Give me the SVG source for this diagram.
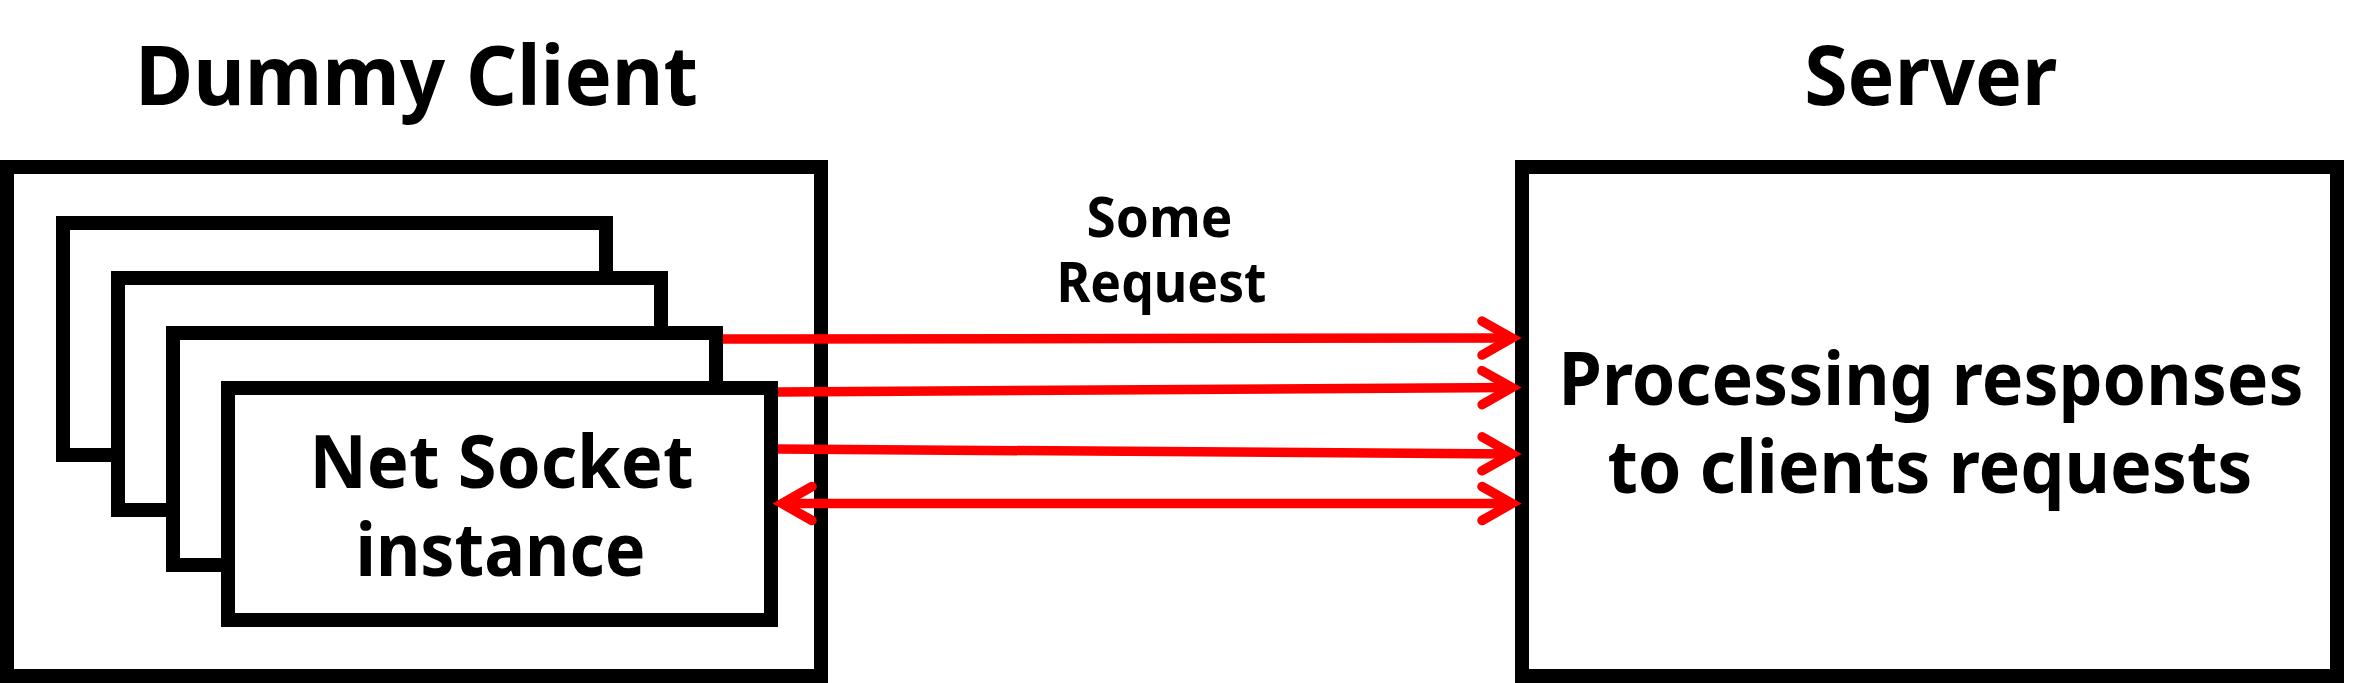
<svg xmlns="http://www.w3.org/2000/svg" width="2372" height="683" viewBox="0 0 2372 683">
<style>
.box{fill:#fff;stroke:#000;stroke-width:14}
.t{font-family:'Noto Sans','Open Sans',sans-serif;font-weight:bold;fill:#000;text-anchor:middle}
.title{font-size:83px}
.body{font-size:73px}
.lbl{font-size:55px}
.conn{fill:none;stroke:#ff0000;stroke-width:9.5}
</style>
<defs>
<marker id="head" markerUnits="userSpaceOnUse" viewBox="-40 -25 50 50" refX="0" refY="0" markerWidth="50" markerHeight="50" orient="auto-start-reverse" overflow="visible">
<path d="M-30,-17 L0,0 L-30,17" fill="none" stroke="#ff0000" stroke-width="9.5" stroke-linecap="round" stroke-linejoin="miter"/>
</marker>
</defs>
<rect width="2372" height="683" fill="#fff"/>
<g id="title-client"><text class="t title" x="416.5" y="105" textLength="563" lengthAdjust="spacingAndGlyphs">Dummy Client</text></g>
<g id="title-server"><text class="t title" x="1930.7" y="105" textLength="253" lengthAdjust="spacingAndGlyphs">Server</text></g>
<g id="client">
<rect class="box" x="7" y="167" width="814" height="509"/>
</g>
<g id="socket1"><rect class="box" x="63" y="223" width="543" height="232"/></g>
<g id="socket2"><rect class="box" x="118" y="278" width="543" height="232"/></g>
<g id="socket3"><rect class="box" x="173" y="333" width="543" height="232"/></g>
<g id="socket4"><rect class="box" x="228" y="388" width="543" height="232"/>
<text class="t body" x="501.5" y="488" textLength="384" lengthAdjust="spacingAndGlyphs">Net Socket</text>
<text class="t body" x="500.5" y="576" textLength="290" lengthAdjust="spacingAndGlyphs">instance</text>
</g>
<g id="server"><rect class="box" x="1522" y="167" width="815" height="509"/>
<text class="t body" x="1931" y="405" textLength="745" lengthAdjust="spacingAndGlyphs">Processing responses</text>
<text class="t body" x="1930" y="493" textLength="645" lengthAdjust="spacingAndGlyphs">to clients requests</text>
</g>
<g id="label-request">
<text class="t lbl" x="1159.5" y="237" textLength="146" lengthAdjust="spacingAndGlyphs">Some</text>
<text class="t lbl" x="1161.5" y="302" textLength="210" lengthAdjust="spacingAndGlyphs">Request</text>
</g>
<g id="connectors">
<path class="conn" d="M723,339 L1512,338" marker-end="url(#head)"/>
<path class="conn" d="M778,392 L1512,387.5" marker-end="url(#head)"/>
<path class="conn" d="M778,449 L1512,454" marker-end="url(#head)"/>
<path class="conn" d="M782,503.5 L1512,503.5" marker-start="url(#head)" marker-end="url(#head)"/>
</g>
</svg>
